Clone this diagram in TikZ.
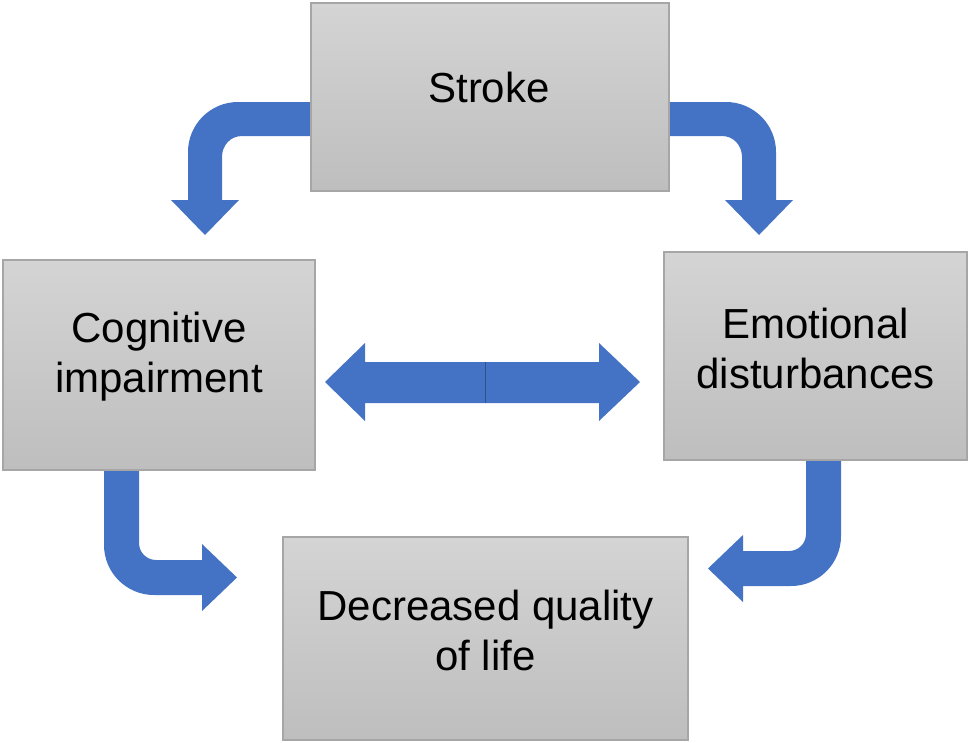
\documentclass[tikz,border=0pt]{standalone}
\usepackage{fontspec}
\setmainfont{Liberation Sans}
\definecolor{arrblue}{HTML}{4472C4}
\definecolor{arrdark}{HTML}{2F528F}
\definecolor{boxtop}{HTML}{D4D4D4}
\definecolor{boxbot}{HTML}{BEBEBE}
\definecolor{boxline}{HTML}{A6A6A6}
\begin{document}
\begin{tikzpicture}[x=0.75pt,y=-0.75pt,
  box/.style={draw=boxline, line width=0.9pt, top color=boxtop, bottom color=boxbot, inner sep=0pt},
  txt/.style={font=\fontsize{31.5}{37.5}\selectfont, align=center, text=black, inner sep=0pt},
  barrow/.style={fill=arrblue}]
\useasboundingbox (0,0) rectangle (969,742);
% block arrows (drawn first, boxes cover their ends)
\fill[barrow] (330,102) -- (238,102) .. controls (210.4,102) and (188,124.4) .. (188,152) -- (188,200) -- (171,200) -- (205,235) -- (239,200) -- (222,200) -- (222,157) .. controls (222,145.4) and (230.4,136) .. (242,136) -- (330,136) -- cycle;
\fill[barrow] (650,102) -- (726,102) .. controls (753.6,102) and (776,124.4) .. (776,152) -- (776,200) -- (793,200) -- (759,235) -- (725,200) -- (742,200) -- (742,157) .. controls (742,145.4) and (733.6,136) .. (722,136) -- (650,136) -- cycle;
\fill[barrow] (104,450) -- (104,545) .. controls (104,572.6) and (126.4,595) .. (154,595) -- (202,595) -- (202,611) -- (237,577.5) -- (202,544) -- (202,560) -- (156,560) .. controls (146.6,560) and (139,552.4) .. (139,543) -- (139,450) -- cycle;
\fill[barrow] (841,440) -- (841,536) .. controls (841,563.6) and (818.6,586) .. (791,586) -- (743,586) -- (743,602) -- (708,568.5) -- (743,535) -- (743,551) -- (789,551) .. controls (798.4,551) and (806,543.4) .. (806,534) -- (806,440) -- cycle;
% double arrow
\fill[barrow] (485,362) -- (365,362) -- (365,343) -- (325,382) -- (365,421) -- (365,403) -- (485,403) -- cycle;
\fill[barrow] (485,362) -- (599,362) -- (599,343) -- (640,382) -- (599,421) -- (599,403) -- (485,403) -- cycle;
\coordinate (dtop) at (485,362);
\coordinate (dbot) at (485,403);
\draw[arrdark, line width=0.6pt] (dtop) -- (dbot);
% boxes
\node[box, minimum width=358*0.75pt, minimum height=188*0.75pt] (stroke) at (490,97) {};
\node[box, minimum width=312*0.75pt, minimum height=210*0.75pt] (cog) at (159,365) {};
\node[box, minimum width=303*0.75pt, minimum height=208*0.75pt] (emo) at (815.5,356) {};
\node[box, minimum width=405*0.75pt, minimum height=203*0.75pt] (qol) at (485.5,638.5) {};
% texts
\node[txt] (strokeT) at (489,87) {Stroke};
\node[txt] (cogT) at (159,357) {Cognitive\\impairment};
\node[txt] (emoT) at (815.5,348) {Emotional\\disturbances};
\node[txt] (qolT) at (485.5,630) {Decreased quality\\of life};
\end{tikzpicture}
\end{document}
